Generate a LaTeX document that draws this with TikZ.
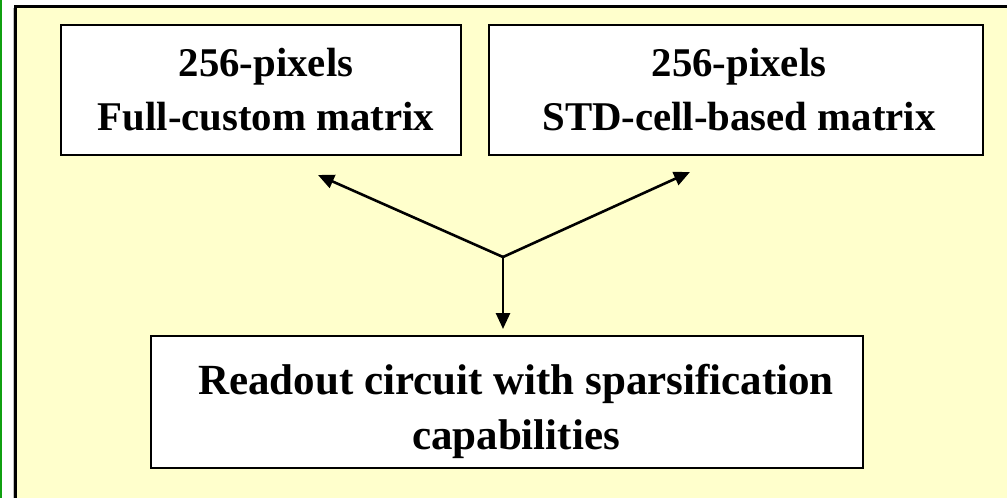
\documentclass[tikz,border=0pt]{standalone}
\usepackage{fontspec}
\setmainfont{Liberation Serif}
\usetikzlibrary{arrows.meta}
\definecolor{bgyellow}{HTML}{FFFFCC}
\definecolor{frgreen}{HTML}{10A010}
\begin{document}
\begin{tikzpicture}[x=1pt,y=-1pt,
  box/.style={draw=black,line width=2.8pt,fill=white,inner sep=0pt},
  ttext/.style={inner sep=0pt,align=center,font=\bfseries\fontsize{40.8}{54}\selectfont},
  btext/.style={inner sep=0pt,align=center,font=\bfseries\fontsize{43}{55}\selectfont},
  conn/.style={line width=2.6pt,-{Triangle[length=16pt,width=14pt]}}]
\useasboundingbox (0,0) rectangle (1007,498);
\fill[white] (0,0) rectangle (1007,498);
\fill[frgreen] (0,0) rectangle (2.2,498);
\fill[bgyellow] (15,6) rectangle (1007,498);
\draw[gray!50,line width=1pt] (13,8) -- (13,498);
\draw[black,line width=2.6pt] (15.5,498) -- (15.5,6.3) -- (1007,6.3);
\node[box,minimum width=400pt,minimum height=130pt] (b1) at (261,90) {};
\node[ttext] (b1t) at ([xshift=5pt]b1.center) {256-pixels\\Full-custom matrix};
\node[box,minimum width=494pt,minimum height=130pt] (b2) at (736,90) {};
\node[ttext] (b2t) at ([xshift=3pt]b2.center) {256-pixels\\STD-cell-based matrix};
\node[box,minimum width=712pt,minimum height=132pt] (b3) at (507,402) {};
\node[btext] (b3t) at ([xshift=9pt,yshift=-9pt]b3.center) {Readout circuit with sparsification\\capabilities};
\coordinate (j) at (503,257);
\coordinate (t1) at (318,175);
\coordinate (t2) at (690,172);
\coordinate (t3) at (503,329);
\draw[conn] (j) -- (t1);
\draw[conn] (j) -- (t2);
\draw[conn] (j) -- (t3);
\end{tikzpicture}
\end{document}
